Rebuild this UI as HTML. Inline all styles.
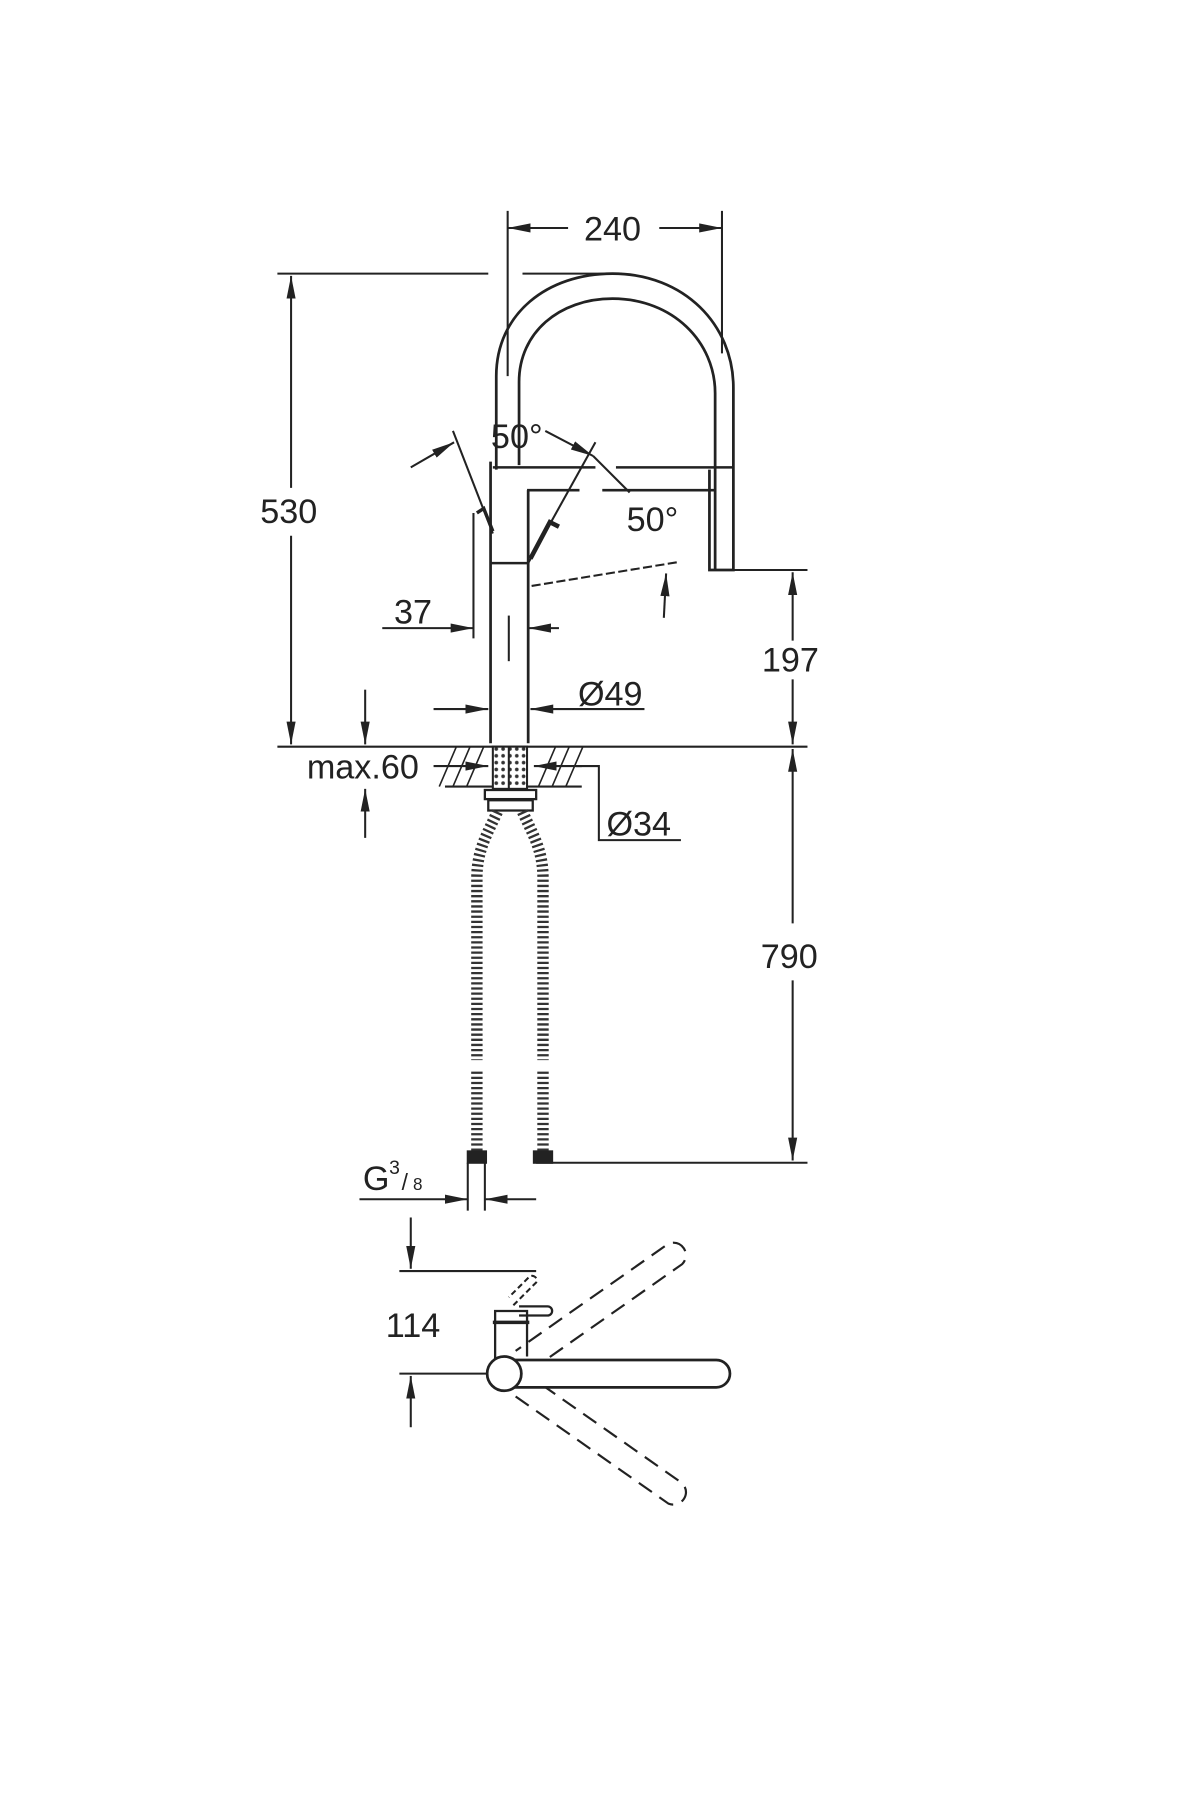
<!DOCTYPE html>
<html><head><meta charset="utf-8"><style>
html,body{margin:0;padding:0;background:#fff}
svg{display:block}
text{font-family:"Liberation Sans",sans-serif;fill:#222}
</style></head><body>
<svg width="1200" height="1800" viewBox="0 0 1052 1579" xmlns="http://www.w3.org/2000/svg">
<defs>
<marker id="a" viewBox="0 0 20 10" refX="20" refY="5" markerWidth="20" markerHeight="10" markerUnits="userSpaceOnUse" orient="auto-start-reverse"><path d="M0,1 L20,5 L0,9 Z" fill="#222"/></marker>
<pattern id="dots" width="6" height="6" patternUnits="userSpaceOnUse"><rect width="6" height="6" fill="#fff"/><circle cx="3" cy="3" r="1.6" fill="#333"/></pattern>
</defs>
<g stroke="#222" stroke-width="1.8" fill="none">
<!-- 240 -->
<line x1="445" y1="185" x2="445" y2="330"/>
<line x1="633" y1="185" x2="633" y2="310"/>
<line x1="498" y1="200" x2="445" y2="200" marker-end="url(#a)"/>
<line x1="578" y1="200" x2="633" y2="200" marker-end="url(#a)"/>
<!-- top line -->
<line x1="243" y1="240" x2="428" y2="240"/>
<line x1="458" y1="240" x2="545" y2="240"/>
<!-- 530 -->
<line x1="255" y1="242" x2="255" y2="428" marker-start="url(#a)"/>
<line x1="255" y1="470" x2="255" y2="653" marker-end="url(#a)"/>
<!-- arch -->
<path stroke-width="2.4" d="M435,412 L435,330 C435,275 480,240 537,240 C600,240 643,285 643,340 L643,500 L622,500 L622,412"/>
<path stroke-width="2.4" d="M455,408 L455,335 C455,292 490,262 537,262 C590,262 627,300 627,345 L627,500"/>
<!-- spray arm -->
<line x1="432" y1="410" x2="522" y2="410" stroke-width="2.2"/>
<line x1="540" y1="410" x2="643" y2="410" stroke-width="2.2"/>
<line x1="462" y1="430" x2="508" y2="430" stroke-width="2.2"/>
<line x1="528" y1="430" x2="627" y2="430" stroke-width="2.2"/>
<!-- body -->
<line x1="430" y1="405" x2="430" y2="652" stroke-width="2.4"/>
<line x1="463" y1="430" x2="463" y2="652" stroke-width="2.4"/>
<line x1="430" y1="494" x2="463" y2="494" stroke-width="2.2"/>
<!-- levers -->
<line x1="397" y1="378" x2="432" y2="468"/>
<path d="M418,450 L424,446 L432,466" stroke-width="3"/>
<line x1="522" y1="388" x2="463" y2="494"/>
<path d="M465,490 L482,458 L490,462" stroke-width="4"/>
<line x1="360" y1="410" x2="398" y2="388" marker-end="url(#a)"/>
<line x1="478" y1="378" x2="520" y2="400" marker-end="url(#a)"/>
<line x1="520" y1="400" x2="552" y2="432"/>
<!-- pull out -->
<path d="M466,514 L595,493" stroke-dasharray="8 3"/>
<line x1="582" y1="542" x2="584" y2="503" marker-end="url(#a)"/>
<!-- 37 -->
<line x1="335" y1="551" x2="415" y2="551" marker-end="url(#a)"/>
<line x1="415" y1="450" x2="415" y2="560"/>
<line x1="490" y1="551" x2="463" y2="551" marker-end="url(#a)"/>
<line x1="446" y1="540" x2="446" y2="580"/>
<!-- 197 -->
<line x1="640" y1="500" x2="708" y2="500"/>
<line x1="695" y1="562" x2="695" y2="502" marker-end="url(#a)"/>
<line x1="695" y1="596" x2="695" y2="653" marker-end="url(#a)"/>
<!-- 49 -->
<line x1="380" y1="622" x2="428" y2="622" marker-end="url(#a)"/>
<line x1="565" y1="622" x2="465" y2="622" marker-end="url(#a)"/>
<!-- counter -->
<line x1="243" y1="655" x2="708" y2="655"/>
<line x1="390" y1="690" x2="510" y2="690"/>
<g stroke-width="1.4">
<line x1="385" y1="690" x2="400" y2="655"/><line x1="397" y1="690" x2="412" y2="655"/><line x1="409" y1="690" x2="424" y2="655"/>
<line x1="472" y1="690" x2="487" y2="655"/><line x1="484" y1="690" x2="499" y2="655"/><line x1="496" y1="690" x2="511" y2="655"/>
</g>
<rect x="432" y="655" width="30" height="37" fill="url(#dots)"/>
<line x1="446" y1="655" x2="446" y2="692"/>
<!-- max60 -->
<line x1="320" y1="605" x2="320" y2="653" marker-end="url(#a)"/>
<line x1="320" y1="735" x2="320" y2="692" marker-end="url(#a)"/>
<!-- nut -->
<rect x="425" y="693" width="45" height="8" stroke-width="2"/>
<rect x="428" y="702" width="39" height="9" stroke-width="2"/>
<!-- 34 -->
<line x1="510" y1="672" x2="468" y2="672" marker-end="url(#a)"/>
<line x1="380" y1="672" x2="428" y2="672" marker-end="url(#a)"/>
<path d="M505,672 L525,672 L525,737 L597,737"/>
<!-- hoses -->
<path d="M436,712 C428,730 418,745 418,770 L418,930 M418,940 L418,1010" stroke-width="10" stroke="#333" stroke-dasharray="2 2.5"/>
<path d="M458,712 C466,730 476,745 476,770 L476,930 M476,940 L476,1010" stroke-width="10" stroke="#333" stroke-dasharray="2 2.5"/>
<rect x="410" y="1010" width="16" height="10" fill="#222"/>
<rect x="468" y="1010" width="16" height="10" fill="#222"/>
<!-- 790 -->
<line x1="470" y1="1020" x2="708" y2="1020"/>
<line x1="695" y1="810" x2="695" y2="657" marker-end="url(#a)"/>
<line x1="695" y1="860" x2="695" y2="1018" marker-end="url(#a)"/>
<!-- G3/8 -->
<line x1="410" y1="1020" x2="410" y2="1062"/>
<line x1="425" y1="1020" x2="425" y2="1062"/>
<line x1="315" y1="1052" x2="410" y2="1052" marker-end="url(#a)"/>
<line x1="470" y1="1052" x2="425" y2="1052" marker-end="url(#a)"/>
<!-- 114 -->
<line x1="360" y1="1068" x2="360" y2="1113" marker-end="url(#a)"/>
<line x1="350" y1="1115" x2="470" y2="1115"/>
<line x1="360" y1="1252" x2="360" y2="1207" marker-end="url(#a)"/>
<line x1="350" y1="1205" x2="430" y2="1205"/>
<!-- plan view -->
<g stroke-dasharray="14 8" stroke-width="1.9">
<path d="M464,1203 L598,1109 A11,11 0 0 0 586,1091 L452,1185"/>
<path d="M452,1225 L586,1319 A11,11 0 0 0 598,1301 L464,1207"/>
</g>
<path d="M440,1193 L628,1193 A12,12 0 0 1 628,1217 L440,1217" stroke-width="2.4" fill="#fff"/>
<circle cx="442" cy="1205" r="15" stroke-width="2.4" fill="#fff"/>
<path d="M434,1192 L434,1150 L462,1150 L462,1190" stroke-width="2"/>
<line x1="432" y1="1160" x2="464" y2="1160" stroke-width="3"/>
<path d="M455,1154 L480,1154 A4,4 0 0 0 480,1146 L455,1146" stroke-width="2"/>
<path d="M450,1145 L470,1125 A4,4 0 0 0 464,1120 L446,1138" stroke-dasharray="5 3"/>
</g>
<g font-size="30">
<text x="537" y="211" text-anchor="middle">240</text>
<text x="253" y="459" text-anchor="middle">530</text>
<text x="453" y="393" text-anchor="middle">50°</text>
<text x="572" y="466" text-anchor="middle">50°</text>
<text x="362" y="547" text-anchor="middle">37</text>
<text x="693" y="589" text-anchor="middle">197</text>
<text x="535" y="619" text-anchor="middle">Ø49</text>
<text x="318" y="683" text-anchor="middle">max.60</text>
<text x="560" y="733" text-anchor="middle">Ø34</text>
<text x="692" y="849" text-anchor="middle">790</text>
<text x="318" y="1044">G</text>
<text x="341" y="1030" font-size="17">3</text>
<text x="352" y="1044" font-size="20">/</text>
<text x="362" y="1044" font-size="15">8</text>
<text x="362" y="1173" text-anchor="middle">114</text>
</g>
</svg>
</body></html>
